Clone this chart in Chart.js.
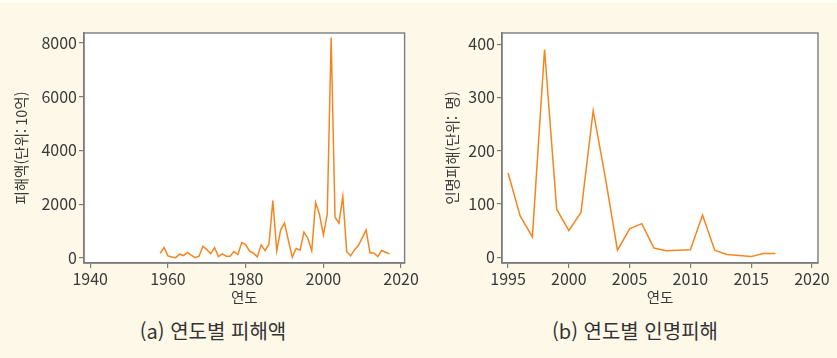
<!DOCTYPE html>
<html lang="ko">
<head>
<meta charset="utf-8">
<script src="https://cdn.jsdelivr.net/npm/chart.js@4/dist/chart.umd.min.js"></script>
<style>
  html, body { margin: 0; padding: 0; }
  body {
    width: 837px; height: 358px; position: relative; overflow: hidden;
    background: #FEF8E8;
    font-family: "Noto Sans CJK KR", "Noto Sans", sans-serif;
  }
  .topstrip { position: absolute; left: 0; top: 0; width: 837px; height: 3px; background: #FFFDF6; }
  .panel { position: absolute; top: 0; }
  .caption {
    position: absolute; top: 317px; width: 300px; text-align: center;
    font-size: 20px; line-height: 28px; color: #333333;
  }
</style>
</head>
<body>
<div class="topstrip"></div>
<div class="panel" style="left:0;width:420px;height:312px;"><canvas id="damage"></canvas></div>
<div class="panel" style="left:420px;width:417px;height:312px;"><canvas id="casualty"></canvas></div>
<div class="caption" style="left:63px;">(a) 연도별 피해액</div>
<div class="caption" style="left:485px;">(b) 연도별 인명피해</div>

<script>
// 연도별 피해액 (단위: 10억)
const damageYears = [
  1958, 1959, 1960, 1961, 1962, 1963, 1964, 1965, 1966, 1967,
  1968, 1969, 1970, 1971, 1972, 1973, 1974, 1975, 1976, 1977,
  1978, 1979, 1980, 1981, 1982, 1983, 1984, 1985, 1986, 1987,
  1988, 1989, 1990, 1991, 1992, 1993, 1994, 1995, 1996, 1997,
  1998, 1999, 2000, 2001, 2002, 2003, 2004, 2005, 2006, 2007,
  2008, 2009, 2010, 2011, 2012, 2013, 2014, 2015, 2016, 2017
];
const damageValues = [
  174, 385, 75, 37, 10, 137, 87, 200, 100, 10,
  62, 435, 310, 150, 385, 50, 150, 62, 62, 236,
  124, 572, 497, 249, 174, 37, 485, 273, 510, 2138,
  261, 1044, 1293, 646, 25, 348, 286, 957, 733, 261,
  2063, 1616, 858, 1641, 8200, 1516, 1293, 2287, 236, 75,
  298, 460, 746, 1044, 186, 186, 50, 273, 211, 150
];
const damageXTicks = [1940, 1960, 1980, 2000, 2020];
const damageYTicks = [0, 2000, 4000, 6000, 8000];

// 연도별 인명피해 (단위: 명)
const casualtyYears = [
  1995, 1996, 1997, 1998, 1999, 2000, 2001, 2002, 2003, 2004, 2005, 2006,
  2007, 2008, 2009, 2010, 2011, 2012, 2013, 2014, 2015, 2016, 2017
];
const casualtyValues = [
  158, 77, 38, 390, 90, 50, 84, 275, 150, 13, 53, 63,
  17, 12, 13, 14, 79, 13, 5, 3, 1, 7, 7
];
const casualtyXTicks = [1995, 2000, 2005, 2010, 2015, 2020];
const casualtyYTicks = [0, 100, 200, 300, 400];

const LINE = '#F5861F';
const SPINE = '#7C7C7C';
const TEXT = '#3A3A3A';
const FONT = '"Noto Sans CJK KR", "Noto Sans", sans-serif';

// white plot background plus a closed frame around the plotting area
const frameBox = {
  id: 'frameBox',
  beforeDraw(chart) {
    const {ctx, chartArea: a} = chart;
    ctx.save();
    ctx.fillStyle = '#FFFFFF';
    ctx.fillRect(a.left, a.top, a.right - a.left, a.bottom - a.top);
    ctx.restore();
  },
  afterDraw(chart) {
    const {ctx, chartArea: a} = chart;
    ctx.save();
    ctx.strokeStyle = SPINE;
    ctx.lineWidth = 1.4;
    ctx.strokeRect(a.left, a.top, a.right - a.left, a.bottom - a.top);
    ctx.restore();
  }
};

function makeChart(id, years, values, xTicks, yTicks, xr, yr, yTitle, opts) {
  const points = years.map((y, i) => ({x: y, y: values[i]}));
  return new Chart(document.getElementById(id), {
    type: 'line',
    data: {
      datasets: [{
        data: points,
        borderColor: LINE,
        borderWidth: 1.5,
        pointRadius: 0,
        tension: 0,
        fill: false
      }]
    },
    options: {
      responsive: true,
      maintainAspectRatio: false,
      animation: false,
      events: [],
      layout: { padding: { top: 33, right: opts.padRight, left: 0, bottom: 0 } },
      plugins: { legend: { display: false }, tooltip: { enabled: false } },
      scales: {
        x: {
          type: 'linear',
          min: xr[0], max: xr[1],
          afterBuildTicks: s => { s.ticks = xTicks.map(v => ({value: v})); },
          afterFit: s => { s.height = 49; },
          grid: { drawOnChartArea: false, drawTicks: true, tickLength: 5, color: SPINE, lineWidth: 1.2 },
          border: { display: true, color: SPINE, width: 1.4 },
          ticks: {
            color: TEXT, padding: 1, maxRotation: 0, autoSkip: false,
            font: { family: FONT, size: 16 },
            callback: v => String(v)
          },
          title: {
            display: true, text: '연도', color: TEXT,
            font: { family: FONT, size: 14.5 }, padding: { top: 0, bottom: 5.5 }
          }
        },
        y: {
          type: 'linear',
          min: yr[0], max: yr[1],
          afterBuildTicks: s => { s.ticks = yTicks.map(v => ({value: v})); },
          afterFit: s => { s.width = opts.yWidth; },
          grid: { drawOnChartArea: false, drawTicks: true, tickLength: 5, color: SPINE, lineWidth: 1.2 },
          border: { display: true, color: SPINE, width: 1.4 },
          ticks: {
            color: TEXT, padding: 2, autoSkip: false,
            font: { family: FONT, size: 16 },
            callback: v => String(v)
          },
          title: {
            display: true, text: yTitle, color: TEXT,
            font: { family: FONT, size: 14.5 }, padding: { top: opts.yTitlePad, bottom: 0 }
          }
        }
      }
    },
    plugins: [frameBox]
  });
}

makeChart('damage', damageYears, damageValues, damageXTicks, damageYTicks,
  [1938.4, 2020.9], [-190, 8370], '피해액(단위: 10억)',
  { padRight: 13, yWidth: 84, yTitlePad: 13 });

makeChart('casualty', casualtyYears, casualtyValues, casualtyXTicks, casualtyYTicks,
  [1994.5, 2020.5], [-11, 421], '인명피해(단위:  명)',
  { padRight: 19, yWidth: 82, yTitlePad: 24 });
</script>
</body>
</html>
